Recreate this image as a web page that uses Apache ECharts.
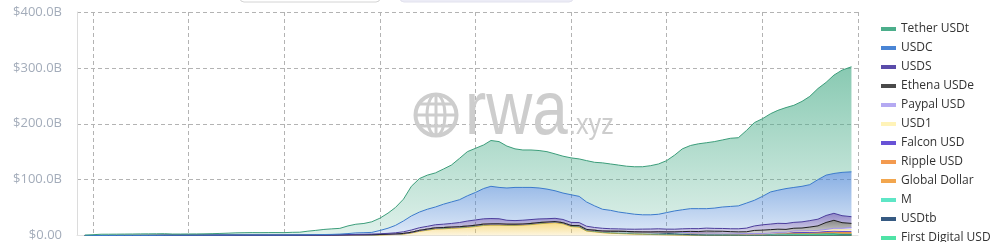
<!DOCTYPE html>
<html><head><meta charset="utf-8">
<script src="https://cdn.jsdelivr.net/npm/echarts@6/dist/echarts.min.js"></script>
<style>html,body{margin:0;padding:0;background:#fff}#c{width:1005px;height:242px}</style>
</head><body><div id="c"></div>
<script>
const dates = [
'2017-12-01',
'2018-01-01','2018-02-01','2018-03-01','2018-04-01','2018-05-01','2018-06-01','2018-07-01','2018-08-01','2018-09-01','2018-10-01','2018-11-01','2018-12-01',
'2019-01-01','2019-02-01','2019-03-01','2019-04-01','2019-05-01','2019-06-01','2019-07-01','2019-08-01','2019-09-01','2019-10-01','2019-11-01','2019-12-01',
'2020-01-01','2020-02-01','2020-03-01','2020-04-01','2020-05-01','2020-06-01','2020-07-01','2020-08-01','2020-09-01','2020-10-01','2020-11-01','2020-12-01',
'2021-01-01','2021-02-01','2021-03-01','2021-04-01','2021-05-01','2021-06-01','2021-07-01','2021-08-01','2021-09-01','2021-10-01','2021-11-01','2021-12-01',
'2022-01-01','2022-02-01','2022-03-01','2022-04-01','2022-05-01','2022-06-01','2022-07-01','2022-08-01','2022-09-01','2022-10-01','2022-11-01','2022-12-01',
'2023-01-01','2023-02-01','2023-03-01','2023-04-01','2023-05-01','2023-06-01','2023-07-01','2023-08-01','2023-09-01','2023-10-01','2023-11-01','2023-12-01',
'2024-01-01','2024-02-01','2024-03-01','2024-04-01','2024-05-01','2024-06-01','2024-07-01','2024-08-01','2024-09-01','2024-10-01','2024-11-01','2024-12-01',
'2025-01-01','2025-02-01','2025-03-01','2025-04-01','2025-05-01','2025-06-01','2025-07-01','2025-08-01','2025-09-01','2025-10-01','2025-11-01','2025-12-07'
];

// values in $ billions, one per date
const tether = [0.8,
1.4,2.2,2.2,2.3,2.4,2.5,2.7,2.75,2.8,2.8,2.0,1.9,
2.0,2.1,2.2,2.5,2.8,3.3,3.7,3.9,4.1,4.1,4.2,4.3,
4.1,4.6,4.7,6.4,7.6,9.1,9.9,10.3,13.7,15.5,16.5,19.0,
22,27,32,39,53,60,61,61,63,66,74,79,
79,78,82,82,75,69,67,67,67,67,66,66,
66,67,74,78,83,83,84,84,85,86,88,90,
93,100,109,113,116,118,119,120,122,122,130,139,
139,140,143,145,147,152,158,163,166,176,183,188];

const usdc = [0,
0,0,0,0,0,0,0,0,0,0.1,0.2,0.3,
0.3,0.25,0.25,0.3,0.35,0.35,0.5,0.55,0.55,0.5,0.5,0.45,
0.5,0.55,0.65,0.75,0.85,1.0,1.1,1.3,1.9,2.6,2.8,3.0,
5.9,9.2,13.2,19.4,25.2,28,30.6,31.8,35.8,38.5,40.8,45.2,
49.2,54.2,57.7,56.1,57.8,59.4,58.7,57.5,55.4,53,49.3,47.3,
49.5,46.9,43.4,38.7,34.1,32.9,30.2,28.6,26.8,25.6,25.4,26.0,
29.6,32.7,34.1,35.7,35.8,34.8,36.3,38.4,39.9,41,44.8,45.9,
50.9,57.5,59.2,62.5,62.5,63.6,64.4,70.8,72.2,71.3,77.5,80.3];

const usds = [0.03,
0.04,0.04,0.05,0.05,0.05,0.06,0.06,0.06,0.07,0.07,0.07,0.07,
0.08,0.08,0.09,0.09,0.09,0.1,0.1,0.1,0.1,0.1,0.1,0.1,
0.1,0.12,0.1,0.12,0.12,0.13,0.2,0.4,0.5,0.8,0.9,1.0,
1.3,1.6,2.0,3.0,4.0,4.8,5.0,5.5,6.0,6.5,7.5,9.0,
9.5,9.5,9.5,9.0,7.0,6.5,6.8,7.0,6.5,6.0,5.8,5.8,
5.5,5.5,5.8,5.0,4.8,4.5,4.3,4.2,4.5,5.0,5.3,5.3,
5.0,4.8,5.0,5.0,5.2,5.2,5.0,5.0,5.2,5.5,6.5,8.0,
9.5,10,10.5,10.5,10.5,11,11.5,12,12.5,12.5,12.5,12];

const ethena = [0,
0,0,0,0,0,0,0,0,0,0,0,0,
0,0,0,0,0,0,0,0,0,0,0,0,
0,0,0,0,0,0,0,0,0,0,0,0,
0,0,0,0,0,0,0,0,0,0,0,0,
0,0,0,0,0,0,0,0,0,0,0,0,
0,0,0,0,0,0,0,0,0,0,0,0.1,
0.2,0.6,1.5,2.3,2.4,3.6,3.5,3.4,2.8,2.6,3.2,5.5,
6.0,6.2,5.8,5.2,4.9,5.0,6.5,8.0,12.5,14.3,10,7.5];

const paypal = [0,
0,0,0,0,0,0,0,0,0,0,0,0,
0,0,0,0,0,0,0,0,0,0,0,0,
0,0,0,0,0,0,0,0,0,0,0,0,
0,0,0,0,0,0,0,0,0,0,0,0,
0,0,0,0,0,0,0,0,0,0,0,0,
0,0,0,0,0,0,0,0.02,0.04,0.1,0.2,0.3,
0.3,0.3,0.2,0.2,0.4,0.4,0.4,0.6,0.7,0.6,0.5,0.5,
0.5,0.6,0.7,0.8,0.9,0.9,0.9,1.0,1.2,2.5,2.8,3.8];

const usd1 = [0,
0,0,0,0,0,0,0,0,0,0,0,0,
0,0,0,0,0,0,0,0,0,0,0,0,
0,0,0,0,0,0,0,0,0,0,0,0,
0,0,0,0,0,0,0,0,0,0,0,0,
0,0,0,0,0,0,0,0,0,0,0,0,
0,0,0,0,0,0,0,0,0,0,0,0,
0,0,0,0,0,0,0,0,0,0,0,0,
0,0,0,0.1,2.1,2.2,2.2,2.2,2.6,2.7,2.9,3.0];

const falcon = [0,
0,0,0,0,0,0,0,0,0,0,0,0,
0,0,0,0,0,0,0,0,0,0,0,0,
0,0,0,0,0,0,0,0,0,0,0,0,
0,0,0,0,0,0,0,0,0,0,0,0,
0,0,0,0,0,0,0,0,0,0,0,0,
0,0,0,0,0,0,0,0,0,0,0,0,
0,0,0,0,0,0,0,0,0,0,0,0,
0,0,0.05,0.3,0.5,0.6,0.7,1.0,1.5,1.9,2.1,2.1];

const ripple = [0,
0,0,0,0,0,0,0,0,0,0,0,0,
0,0,0,0,0,0,0,0,0,0,0,0,
0,0,0,0,0,0,0,0,0,0,0,0,
0,0,0,0,0,0,0,0,0,0,0,0,
0,0,0,0,0,0,0,0,0,0,0,0,
0,0,0,0,0,0,0,0,0,0,0,0,
0,0,0,0,0,0,0,0,0,0,0,0.05,
0.07,0.12,0.2,0.3,0.3,0.4,0.5,0.65,0.75,0.85,1.0,1.2];

const globalDollar = [0,
0,0,0,0,0,0,0,0,0,0,0,0,
0,0,0,0,0,0,0,0,0,0,0,0,
0,0,0,0,0,0,0,0,0,0,0,0,
0,0,0,0,0,0,0,0,0,0,0,0,
0,0,0,0,0,0,0,0,0,0,0,0,
0,0,0,0,0,0,0,0,0,0,0,0,
0,0,0,0,0,0,0,0,0,0,0.02,0.05,
0.1,0.2,0.3,0.3,0.4,0.45,0.45,0.5,0.6,0.7,0.8,0.9];

const mZero = [0,
0,0,0,0,0,0,0,0,0,0,0,0,
0,0,0,0,0,0,0,0,0,0,0,0,
0,0,0,0,0,0,0,0,0,0,0,0,
0,0,0,0,0,0,0,0,0,0,0,0,
0,0,0,0,0,0,0,0,0,0,0,0,
0,0,0,0,0,0,0,0,0,0,0,0,
0,0,0,0,0,0,0.02,0.03,0.04,0.05,0.05,0.06,
0.07,0.08,0.1,0.1,0.15,0.2,0.3,0.4,0.6,0.8,0.7,0.7];

const usdtb = [0,
0,0,0,0,0,0,0,0,0,0,0,0,
0,0,0,0,0,0,0,0,0,0,0,0,
0,0,0,0,0,0,0,0,0,0,0,0,
0,0,0,0,0,0,0,0,0,0,0,0,
0,0,0,0,0,0,0,0,0,0,0,0,
0,0,0,0,0,0,0,0,0,0,0,0,
0,0,0,0,0,0,0,0,0,0,0,0.05,
0.1,0.6,1.1,1.4,1.4,1.4,1.4,1.4,1.5,1.5,0.9,0.8];

const fdusd = [0,
0,0,0,0,0,0,0,0,0,0,0,0,
0,0,0,0,0,0,0,0,0,0,0,0,
0,0,0,0,0,0,0,0,0,0,0,0,
0,0,0,0,0,0,0,0,0,0,0,0,
0,0,0,0,0,0,0,0,0,0,0,0,
0,0,0,0,0,0.1,0.3,0.4,0.4,0.6,1.0,1.8,
2.2,2.5,3.0,3.3,3.0,3.0,2.8,2.6,2.4,2.3,2.0,2.0,
1.9,1.8,2.2,1.6,1.5,1.4,1.3,1.2,1.2,1.1,0.9,0.8];

const tusd = [0,
0,0,0.02,0.05,0.07,0.08,0.1,0.12,0.13,0.15,0.2,0.2,
0.2,0.2,0.25,0.2,0.2,0.2,0.2,0.2,0.18,0.15,0.15,0.15,
0.15,0.15,0.15,0.15,0.2,0.2,0.25,0.3,0.35,0.4,0.35,0.3,
0.3,0.3,0.4,0.5,0.6,0.8,1.0,1.3,1.3,1.3,1.3,1.4,
1.4,1.4,1.4,1.5,1.3,1.2,1.1,1.1,1.2,1.1,1.0,1.0,
1.1,1.8,2.0,2.0,2.3,2.7,3.0,3.1,3.2,3.0,2.8,2.5,
2.0,1.6,1.0,0.6,0.5,0.5,0.5,0.5,0.5,0.5,0.5,0.5,
0.5,0.5,0.5,0.5,0.5,0.5,0.5,0.5,0.5,0.5,0.5,0.5];

const pax = [0,
0,0,0,0,0,0,0,0,0.05,0.1,0.15,0.15,
0.15,0.18,0.2,0.22,0.23,0.24,0.24,0.24,0.24,0.24,0.24,0.24,
0.25,0.25,0.25,0.25,0.25,0.25,0.25,0.3,0.3,0.35,0.4,0.45,
0.5,0.55,0.6,0.65,0.7,0.85,0.9,0.95,0.95,0.95,0.95,0.95,
0.95,0.95,0.95,0.95,0.95,0.95,0.95,0.95,0.95,0.95,0.95,0.9,
0.85,0.85,0.85,0.8,0.8,0.8,0.75,0.7,0.6,0.55,0.5,0.5,
0.5,0.5,0.45,0.45,0.45,0.4,0.4,0.4,0.4,0.4,0.35,0.3,
0.3,0.3,0.3,0.3,0.3,0.3,0.3,0.3,0.3,0.3,0.3,0.3];

const busd = [0,
0,0,0,0,0,0,0,0,0,0,0,0,
0,0,0,0,0,0,0,0,0.01,0.02,0.02,0.02,
0.02,0.03,0.05,0.1,0.15,0.17,0.17,0.2,0.4,0.5,0.6,0.8,
1.0,1.4,1.8,2.5,4.5,7.5,9.5,11.5,12,12.8,13.5,14.5,
16,18,18.5,18.5,18,18,18.5,19.5,21,22,23,21,
16,15,8,6.5,5,4,3.5,3,2.5,2.2,1.8,1.5,
1.2,1.0,0.8,0.5,0.3,0.1,0.08,0.07,0.06,0.06,0.06,0.06,
0.06,0.06,0.06,0.06,0.06,0.06,0.06,0.06,0.06,0.06,0.06,0.06];

const seriesNames = ['Tether USDt','USDC','USDS','Ethena USDe','Paypal USD','USD1','Falcon USD','Ripple USD','Global Dollar','M','USDtb','First Digital USD','TrueUSD','Pax Dollar','Binance USD'];
const seriesValues = [tether, usdc, usds, ethena, paypal, usd1, falcon, ripple, globalDollar, mZero, usdtb, fdusd, tusd, pax, busd];
const seriesColors = ['#4cae8b','#4a85d5','#5a4caa','#4a4a4a','#b4a9f2','#fff3b8','#6852d6','#f39a4f','#f2a64e','#5ee6c6','#365a82','#4fe3a6','#3f6f8a','#7fb08f','#f2c94c'];
const lineColors = ['#3c9d7a','#3b7acb','#4b3d9c','#1f1f1f','#9d90e8','#f3e6a0','#5a44c8','#e88b3e','#e8963c','#45d6b3','#2a4a70','#3bd496','#2f5a72','#6a9a7a','#d9ac2a'];
const yTickLabels = ['$0.00','$100.0B','$200.0B','$300.0B','$400.0B'];

function rgba(hex, a){
  const n = parseInt(hex.slice(1),16);
  return 'rgba('+((n>>16)&255)+','+((n>>8)&255)+','+(n&255)+','+a+')';
}

const chart = echarts.init(document.getElementById('c'), null, {renderer:'canvas'});
const series = [];
for (let i = seriesNames.length - 1; i >= 0; i--) {
  const vals = seriesValues[i];
  series.push({
    name: seriesNames[i],
    type: 'line',
    stack: 'total',
    symbol: 'none',
    showSymbol: false,
    color: seriesColors[i],
    lineStyle: {width: 1, color: lineColors[i]},
    areaStyle: {
      color: new echarts.graphic.LinearGradient(0,0,0,1,[
        {offset:0, color: rgba(seriesColors[i], 0.95)},
        {offset:1, color: rgba(seriesColors[i], 0.25)}
      ])
    },
    emphasis: {disabled: true},
    data: vals.map((v, k) => [dates[k], v])
  });
}

const gray = '#cdcdcd';
chart.setOption({
  animation: false,
  backgroundColor: '#ffffff',
  grid: {left: 77, right: 147, top: 12, bottom: 2, containLabel: false},
  legend: {
    orient: 'vertical', left: 876, top: 17, height: 600,
    icon: 'rect', itemWidth: 15, itemHeight: 4, itemGap: 5,
    data: seriesNames,
    textStyle: {fontSize: 12, color: '#333', fontFamily: '"Open Sans", sans-serif', lineHeight: 14},
    selectedMode: false
  },
  xAxis: {
    type: 'time',
    min: '2017-11-01', max: '2026-01-01',
    minInterval: 365*24*3600*1000, maxInterval: 366*24*3600*1000,
    axisLabel: {show: false},
    axisTick: {show: false},
    axisLine: {show: true, lineStyle: {color: '#e3e3e3'}},
    splitLine: {show: true, lineStyle: {color: '#b3b3b3', type: [4,3], width: 1}}
  },
  yAxis: {
    type: 'value', min: 0, max: 400, interval: 100,
    axisLine: {show: true, lineStyle: {color: '#dcdcdc'}},
    axisTick: {show: false},
    axisLabel: {
      color: '#a3acba', fontSize: 13, margin: 15,
      fontFamily: '"Open Sans", sans-serif',
      formatter: v => yTickLabels[Math.round(v/100)]
    },
    splitLine: {show: true, lineStyle: {color: '#b3b3b3', type: [4,3], width: 1}}
  },
  graphic: [
    {type:'rect', z: 10, shape:{x:240, y:-20, width:140, height:22, r:4}, style:{fill:'#ffffff', stroke:'#d4d4d4', lineWidth:1}},
    {type:'rect', z: 10, shape:{x:400, y:-20, width:173, height:22, r:4}, style:{fill:'#ececf6', stroke:'#e2e2ee', lineWidth:1}},
    {type:'circle', z: 100, shape:{cx:436, cy:115, r:20.5}, style:{fill:null, stroke:gray, lineWidth:4}},
    {type:'ellipse', z: 100, shape:{cx:436, cy:115, rx:9, ry:20.5}, style:{fill:null, stroke:gray, lineWidth:3}},
    {type:'line', z: 100, shape:{x1:436, y1:95, x2:436, y2:135}, style:{stroke:gray, lineWidth:3}},
    {type:'line', z: 100, shape:{x1:416, y1:115, x2:456, y2:115}, style:{stroke:gray, lineWidth:3}},
    {type:'line', z: 100, shape:{x1:419, y1:104, x2:453, y2:104}, style:{stroke:gray, lineWidth:3}},
    {type:'line', z: 100, shape:{x1:419, y1:126, x2:453, y2:126}, style:{stroke:gray, lineWidth:3}},
    {type:'text', z: 100, x: 465, y: 151, scaleX: 0.84, style:{text:'rwa', font:'76px "Liberation Sans"', fill:gray, align:'left', verticalAlign:'bottom'}},
    {type:'text', z: 100, x: 569, y: 140, scaleX: 0.87, style:{text:'.xyz', font:'29px "Liberation Sans"', fill:gray, align:'left', verticalAlign:'bottom'}}
  ],
  series: series
});
</script>
</body></html>
